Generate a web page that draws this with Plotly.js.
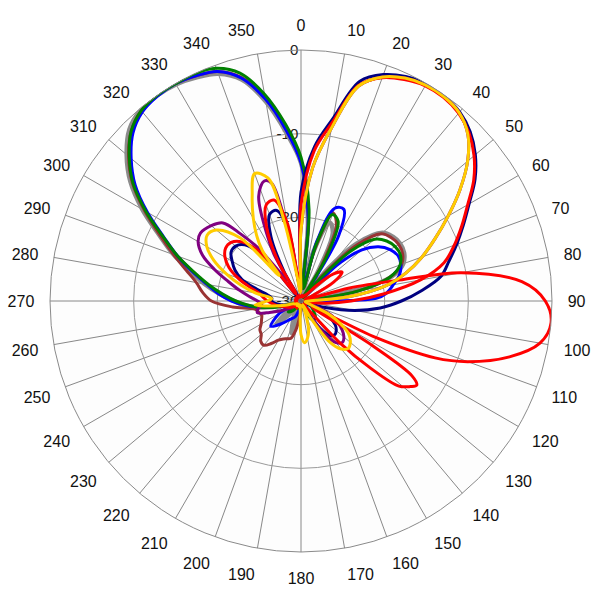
<!DOCTYPE html>
<html><head><meta charset="utf-8">
<script src="https://cdn.plot.ly/plotly-3.0.1.min.js"></script>
<style>html,body{margin:0;padding:0;background:#fff}#chart{width:600px;height:600px}</style>
</head><body><div id="chart"></div>
<script>
// angular tick labels (degrees) and radial ticks (dB)
const ANGLE_TICKS = [0,10,20,30,40,50,60,70,80,90,100,110,120,130,140,150,160,170,180,190,200,210,220,230,240,250,260,270,280,290,300,310,320,330,340,350];
const RADIAL_TICKS = [-30,-20,-10,0];

// gray
const theta_gray = [0,5,9,14,20,25,30,35,40,44,50,55,60,65,70,75,78,82,90,100,110,120,130,140,150,160,170,180,190,197,204,212,220,227,235,245,255,260,265,270,275,280,285,290,295,300,305,310,315,320,325,330,335,340,345,350,355];
const r_gray = [-13.5,-20.5,-29,-24,-20,-21,-26,-29.5,-25,-20.5,-17.3,-16.6,-16.3,-16.4,-17,-18.8,-22,-29,-29.5,-29.3,-29.5,-29.3,-29.5,-29,-28,-29.3,-29.5,-29.3,-28,-26,-28,-29,-28,-26,-28.5,-29.5,-28,-25.5,-23.5,-22,-20.2,-18.3,-16.3,-13.8,-11.3,-8.1,-5.1,-2.8,-1.0,-0.2,0,-0.1,-0.5,-1.1,-2.6,-5.8,-9.8];

// green
const theta_green = [0,5,10,15,20,25,30,35,40,45,50,55,60,65,70,75,80,84,90,100,110,120,130,140,150,160,170,180,190,200,210,220,230,240,250,255,260,265,270,275,280,285,290,295,300,305,310,315,320,325,330,335,340,345,350,355];
const r_green = [-12.8,-19,-28.5,-23,-19,-19.5,-24,-29.5,-27,-21.5,-18.5,-17.5,-17,-16.9,-17.4,-19,-23,-29,-29.5,-29.3,-29.5,-28.5,-28,-27.3,-27.5,-29,-29.5,-29.3,-29.5,-29,-29.3,-28.5,-28,-29,-29.3,-27.5,-25.5,-23.8,-22.2,-20.6,-18.8,-16.8,-14.3,-11.8,-8.6,-5.5,-3.2,-1.3,-0.3,0,0,0,-0.4,-1.8,-4.9,-8.8];

// blue
const theta_blue = [0,5,10,15,20,25,30,34,40,45,50,55,60,65,70,75,80,85,88,92,100,110,120,130,140,150,160,170,180,190,200,210,220,230,240,250,255,260,265,270,275,280,285,290,295,300,305,310,315,320,325,330,335,340,345,350,355];
const r_blue = [-13.5,-20,-28,-22.5,-18.2,-17.9,-21,-28.5,-29,-24,-20.5,-18.7,-17.7,-17.2,-17.3,-17.8,-18.8,-19.8,-21,-29,-29.5,-29.3,-29.5,-29.3,-29,-29.5,-29.3,-29.5,-29.3,-29,-28,-27.5,-26.5,-25.3,-27,-29,-28,-25.8,-23.5,-21.7,-20.1,-18.6,-16.6,-14.3,-11.9,-8.8,-5.8,-3.5,-1.6,-0.5,-0.1,0,-0.3,-0.8,-2.4,-5.5,-9.5];

// brown
const theta_brown = [0,5,10,15,20,25,30,35,40,45,50,55,60,65,70,75,80,85,90,100,110,120,130,140,150,160,170,180,185,190,195,200,205,210,215,220,225,230,235,240,245,250,255,260,265,270,275,280,285,290,295,300,305,310,315,320,325,330,335,340,345,350,355];
const r_brown = [-13.2,-20,-28.5,-23.5,-18.8,-20,-25,-29.5,-26,-20.5,-17.5,-16.8,-16.5,-16.6,-17.2,-19,-23,-29,-29.5,-29.3,-29.5,-29.3,-29.5,-29.3,-29.5,-29.3,-29.5,-29,-28,-26.5,-25.4,-25.2,-25,-24.6,-23.8,-23.1,-23.2,-23.8,-24,-24.5,-24.8,-25,-24.8,-24.4,-21.8,-19.3,-18.2,-17.3,-15.8,-13.8,-11.4,-8.4,-5.4,-3.1,-1.3,-0.3,0,0,-0.3,-0.8,-2.3,-5.4,-9.3];

// navy
const theta_navy = [0,5,10,15,20,25,30,35,40,45,50,55,60,65,70,75,80,85,90,95,100,105,110,115,120,125,130,135,140,145,150,160,170,180,190,200,210,220,230,240,250,260,270,275,280,285,290,295,300,305,310,315,320,325,330,335,340,345,350,355];
const r_navy = [-17,-11.5,-7.8,-2.8,-1.2,-0.4,0,-0.1,-0.5,-1.4,-2.8,-4.6,-6.8,-8.6,-10.2,-11.7,-13,-15.5,-18,-20.5,-23.5,-27,-29.5,-28,-26,-25,-24.5,-24.3,-24.6,-26,-29,-29.5,-29.3,-29.5,-29.3,-29.5,-29.3,-29.5,-29.3,-29,-28.5,-27.5,-26.5,-26.5,-26,-24.5,-22.5,-21.3,-20.5,-19.8,-19.8,-20.5,-23,-29.3,-26,-21.5,-19,-18.8,-21.5,-28];

// purple
const theta_purple = [0,5,10,15,20,25,30,35,40,45,50,55,60,65,70,75,80,85,90,100,110,115,120,125,130,135,140,145,150,160,170,180,190,200,210,220,230,240,250,255,260,265,270,275,280,285,290,295,300,304,310,315,318,321,324,327,330,333,338,343,346,349,352,356];
const r_purple = [-21.5,-14,-9,-3.4,-1.5,-0.6,-0.2,-0.2,-0.6,-1.8,-4,-6.8,-9.7,-12.3,-14.6,-17,-19.8,-24.3,-29,-29.5,-28,-26,-25,-24,-23.3,-23,-23.5,-25.5,-28.5,-29.5,-29.3,-29.5,-29.3,-29.5,-29.3,-29.5,-29,-28,-26,-24.6,-24.8,-25.3,-24.8,-23.8,-22.5,-21,-19,-17,-15.8,-15.5,-16,-16.8,-19.2,-21.8,-26,-27,-23.5,-21,-16.5,-15,-15.5,-21,-27,-29];

// red (main lobe family)
const theta_red1 = [0,5,10,15,20,25,30,35,40,45,50,55,60,65,70,75,80,85,90,95,100,105,110,120,130,140,150,160,170,180,190,200,210,220,230,240,250,260,270,275,280,285,290,295,300,305,310,315,320,325,330,335,340,345,350,355];
const r_red1 = [-18.5,-12,-8.3,-3.3,-1.6,-0.8,-0.3,-0.3,-0.7,-1.6,-3.0,-4.8,-7.0,-8.8,-10.5,-12.3,-15.5,-20,-24,-27,-29,-29.5,-29.3,-29.5,-29.3,-29.5,-29.3,-29.5,-29.3,-29.5,-29.3,-29.5,-29,-29.3,-29,-28.5,-28,-27,-26,-25.5,-25,-23.7,-22,-20.5,-19.5,-19,-19.1,-20,-22.5,-29,-24.5,-20.3,-17.8,-17.5,-20.5,-27.5];

// red (side lobe family)
const theta_red2 = [0,10,20,30,40,45,50,55,60,65,70,75,78,80,85,90,95,100,105,110,113,116,119,122,124,126,128,131,134,137,141,150,160,170,180,190,200,210,220,230,240,250,260,270,280,290,300,310,320,330,340,350];
const r_red2 = [-29.5,-29.3,-29.5,-29.3,-29,-27.5,-25,-24,-25.5,-28.5,-29.5,-24,-18,-10.5,-3.5,-0.8,0,-1,-4.2,-8.8,-12.6,-20,-28.5,-20,-14,-12.9,-13.4,-14.5,-18.5,-23,-29,-29.5,-29.3,-29.5,-29.3,-29.5,-29.3,-29.5,-29.3,-29.5,-29.3,-29.5,-29.3,-29.5,-29.3,-29.5,-29.3,-29.5,-29.3,-29.5,-29.3,-29.5];

// gold
const theta_gold = [0,5,10,15,20,25,30,35,40,45,50,55,60,65,70,75,80,85,90,100,110,115,120,125,130,135,140,145,150,155,160,165,170,175,180,185,190,200,210,220,230,240,250,255,260,265,270,275,280,285,290,295,300,305,310,316,319.5,322.5,326,330,335,340,345,348,351,356];
const r_gold = [-21.5,-14,-9,-3.4,-1.5,-0.6,-0.2,-0.2,-0.6,-1.8,-4,-6.8,-9.7,-12.3,-14.6,-17,-19.8,-24.3,-29,-29.5,-29,-26.5,-24.5,-23,-22.3,-22,-22.5,-24,-27.5,-29.5,-28.5,-26.5,-25.5,-25,-26,-29,-29.5,-29.3,-29.5,-29.3,-29.5,-29.3,-29,-28,-26.5,-24.5,-26,-26.5,-24.5,-22.5,-20.5,-18.5,-17,-16.3,-16.8,-19.5,-26,-22.4,-20.5,-18.6,-16.2,-13.8,-14.8,-20,-27,-29];

const SERIES = [
  {name:'gray', theta:theta_gray, r:r_gray, color:'#8c8c8c', width:4.5},
  {name:'brown', theta:theta_brown, r:r_brown, color:'#993333', width:3},
  {name:'blue', theta:theta_blue, r:r_blue, color:'#0000ff', width:3},
  {name:'green', theta:theta_green, r:r_green, color:'#008000', width:3},
  {name:'navy', theta:theta_navy, r:r_navy, color:'#000080', width:3},
  {name:'purple', theta:theta_purple, r:r_purple, color:'#800080', width:3},
  {name:'red', theta:theta_red1, r:r_red1, color:'#ff0000', width:3},
  {name:'red2', theta:theta_red2, r:r_red2, color:'#ff0000', width:3},
  {name:'gold', theta:theta_gold, r:r_gold, color:'#ffcc00', width:3}
];

const traces = SERIES.map(s => ({
  type:'scatterpolar', mode:'lines', name:s.name,
  theta: s.theta.concat([s.theta[0] + 360]),
  r: s.r.concat([s.r[0]]),
  line:{color:s.color, width:s.width, shape:'spline', smoothing:1},
  hoverinfo:'skip'
}));

const layout = {
  width:600, height:600,
  margin:{l:50, r:48, t:50, b:48},
  paper_bgcolor:'#ffffff',
  showlegend:false,
  polar:{
    bgcolor:'#fdfdfd',
    angularaxis:{
      rotation:90, direction:'clockwise',
      tickmode:'array', tickvals:ANGLE_TICKS, ticktext:ANGLE_TICKS.map(String),
      ticks:'outside', ticklen:12, tickcolor:'rgba(0,0,0,0)',
      showline:true, linecolor:'#8a8a8a', linewidth:1,
      showgrid:true, gridcolor:'#6a6a6a', gridwidth:0.8,
      tickfont:{family:'Liberation Sans, Arial, sans-serif', size:16, color:'#111'}
    },
    radialaxis:{
      range:[-30,0], tickmode:'array', tickvals:RADIAL_TICKS, ticktext:RADIAL_TICKS.map(String),
      angle:90, tickangle:90, side:'counterclockwise', ticks:'', showline:false,
      showgrid:true, gridcolor:'#9a9a9a', gridwidth:1,
      layer:'below traces',
      tickfont:{family:'Liberation Sans, Arial, sans-serif', size:15, color:'#222'}
    }
  }
};

Plotly.newPlot('chart', traces, layout, {staticPlot:true, displayModeBar:false});
</script></body></html>
